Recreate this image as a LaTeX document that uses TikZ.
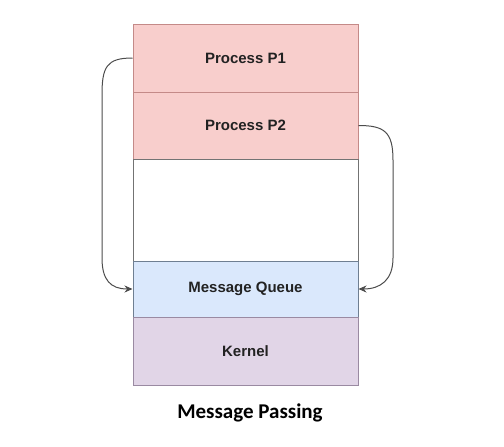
\documentclass[tikz,border=0pt]{standalone}
\usepackage{fontspec}
\setmainfont{Liberation Sans}
\newfontfamily\capfont{Carlito}
\usetikzlibrary{arrows.meta}
\definecolor{pfill}{HTML}{F8CECC}
\definecolor{pdraw}{HTML}{C48A88}
\definecolor{qfill}{HTML}{DAE8FC}
\definecolor{qdraw}{HTML}{6F7F92}
\definecolor{kfill}{HTML}{E1D5E7}
\definecolor{kdraw}{HTML}{9A8AA2}
\definecolor{txt}{HTML}{222222}
\begin{document}
\begin{tikzpicture}[x=1pt,y=-1pt,
  layer/.style={rectangle, minimum width=225pt, inner sep=0pt, line width=1pt,
    font=\fontsize{15}{18}\selectfont\bfseries, text=txt},
  arr/.style={draw=black!70, line width=1pt, -{Stealth[length=8pt,width=7pt]}}]
\useasboundingbox (0,0) rectangle (504,447);
\node[layer, fill=pfill, draw=pdraw, minimum height=68pt] (p1) at (245.5,58) {Process P1};
\node[layer, fill=pfill, draw=pdraw, minimum height=67pt] (p2) at (245.5,125.5) {Process P2};
\node[layer, fill=white, draw=black!55, minimum height=102pt] (free) at (245.5,210) {};
\node[layer, fill=qfill, draw=qdraw, minimum height=56pt] (mq) at (245.5,289) {Message Queue};
\node[layer, fill=kfill, draw=kdraw, minimum height=68pt] (kern) at (245.5,351) {Kernel};
\node[font=\capfont\fontsize{21}{24}\selectfont\bfseries, text=black] (cap) at (250,413) {Message Passing};
\coordinate (l1) at (102,95);
\coordinate (l2) at (102,258);
\coordinate (r1) at (393,160);
\coordinate (r2) at (393,258);
\draw[arr] (p1.west) .. controls +(-26,0) and +(0,-28) .. (l1) -- (l2) .. controls +(0,22) and +(-22,0) .. (mq.west);
\draw[arr] (p2.east) .. controls +(26,0) and +(0,-28) .. (r1) -- (r2) .. controls +(0,22) and +(22,0) .. (mq.east);
\end{tikzpicture}
\end{document}
